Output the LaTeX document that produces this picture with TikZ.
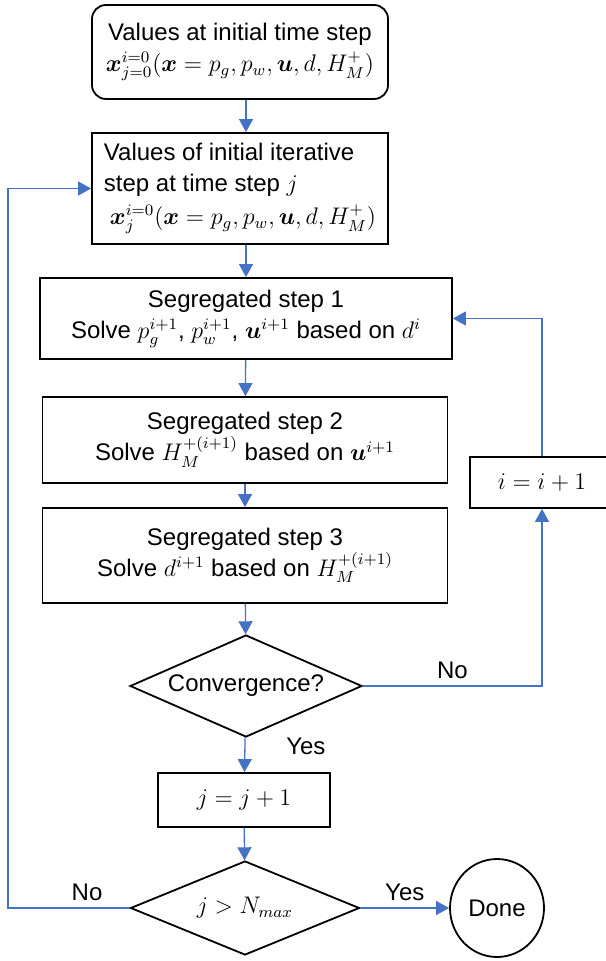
\documentclass[tikz,border=0pt]{standalone}
\usepackage{amsmath,amssymb}
\usepackage{fontspec}
\setmainfont{Liberation Sans}
\usetikzlibrary{arrows.meta,calc,shapes.geometric,positioning}
\definecolor{flowblue}{RGB}{68,114,196}

\begin{document}
\begin{tikzpicture}[x=0.5pt,y=-0.5pt,
		every node/.style={font=\fontsize{12}{15.5}\selectfont},
		block/.style={draw,line width=0.9pt,align=center,inner sep=2pt},
		decision/.style={draw,line width=0.9pt,diamond,aspect=2.27,inner sep=0pt},
		flow/.style={draw=flowblue,line width=0.65pt,-{Triangle[length=6.5pt,width=7pt,fill=flowblue]}}]
		\useasboundingbox (0,0) rectangle (605,961);

		% main column
		\node[block,rounded corners=7pt,minimum width=148pt,minimum height=47pt] (init) at (240,52)
			{Values at initial time step\\ $\boldsymbol{x}_{j=0}^{i=0}(\boldsymbol{x}=p_g,p_w,\boldsymbol{u},d,H_M^+)$};
		\node[block,align=left,minimum width=148pt,minimum height=55.5pt] (iter) at (240,188.5)
			{Values of initial iterative\\ step at time step $j$\\[1pt] \hspace*{3pt}$\boldsymbol{x}_{j}^{i=0}(\boldsymbol{x}=p_g,p_w,\boldsymbol{u},d,H_M^+)$};
		\node[block,minimum width=206pt,minimum height=40.5pt] (seg1) at (246,318.5)
			{Segregated step 1\\ Solve $p_g^{i+1}$, $p_w^{i+1}$, $\boldsymbol{u}^{i+1}$ based on $d^i$};
		\node[block,minimum width=202.5pt,minimum height=43pt] (seg2) at (245,440)
			{Segregated step 2\\ Solve $H_M^{+(i+1)}$ based on $\boldsymbol{u}^{i+1}$};
		\node[block,minimum width=202.5pt,minimum height=47.5pt] (seg3) at (245,555.5)
			{Segregated step 3\\ Solve $d^{i+1}$ based on $H_M^{+(i+1)}$};
		\node[decision,minimum width=116pt,minimum height=51pt] (conv) at (246,686) {Convergence?};
		\node[block,minimum width=86pt,minimum height=27pt] (jinc) at (244,800) {$j=j+1$};
		\node[decision,minimum width=114.5pt,minimum height=47pt] (jmax) at (245,908) {$j>N_{max}$};

		% side nodes
		\node[block,minimum width=72pt,minimum height=25.5pt] (iinc) at (542,482.5) {$i=i+1$};
		\node[draw,line width=0.9pt,ellipse,inner sep=0pt,minimum width=47pt,minimum height=49pt] (done) at (497,908) {Done};
		\coordinate (backL) at (8,908);

		\draw[flow] (init.south -| seg1.north) -- (iter.north -| seg1.north);
		\draw[flow] (iter.south -| seg1.north) -- (seg1.north);
		\draw[flow] (seg1) -- (seg2);
		\draw[flow] (seg2) -- (seg3);
		\draw[flow] (seg3) -- (conv);
		\draw[flow] (conv) -- node[pos=0.25,right=17pt] {Yes} (jinc);
		\draw[flow] (jinc) -- (jmax);
		\draw[flow] (jmax) -- node[midway,above] {Yes} (done);
		\draw[flow] (conv.east) -| node[pos=0.25,above] {No} (iinc.south);
		\draw[flow] (iinc.north) |- (seg1.east);
		\draw[flow] (jmax.west) -- node[pos=0.35,above] {No} (backL) |- (iter.west);
	\end{tikzpicture}
\end{document}
